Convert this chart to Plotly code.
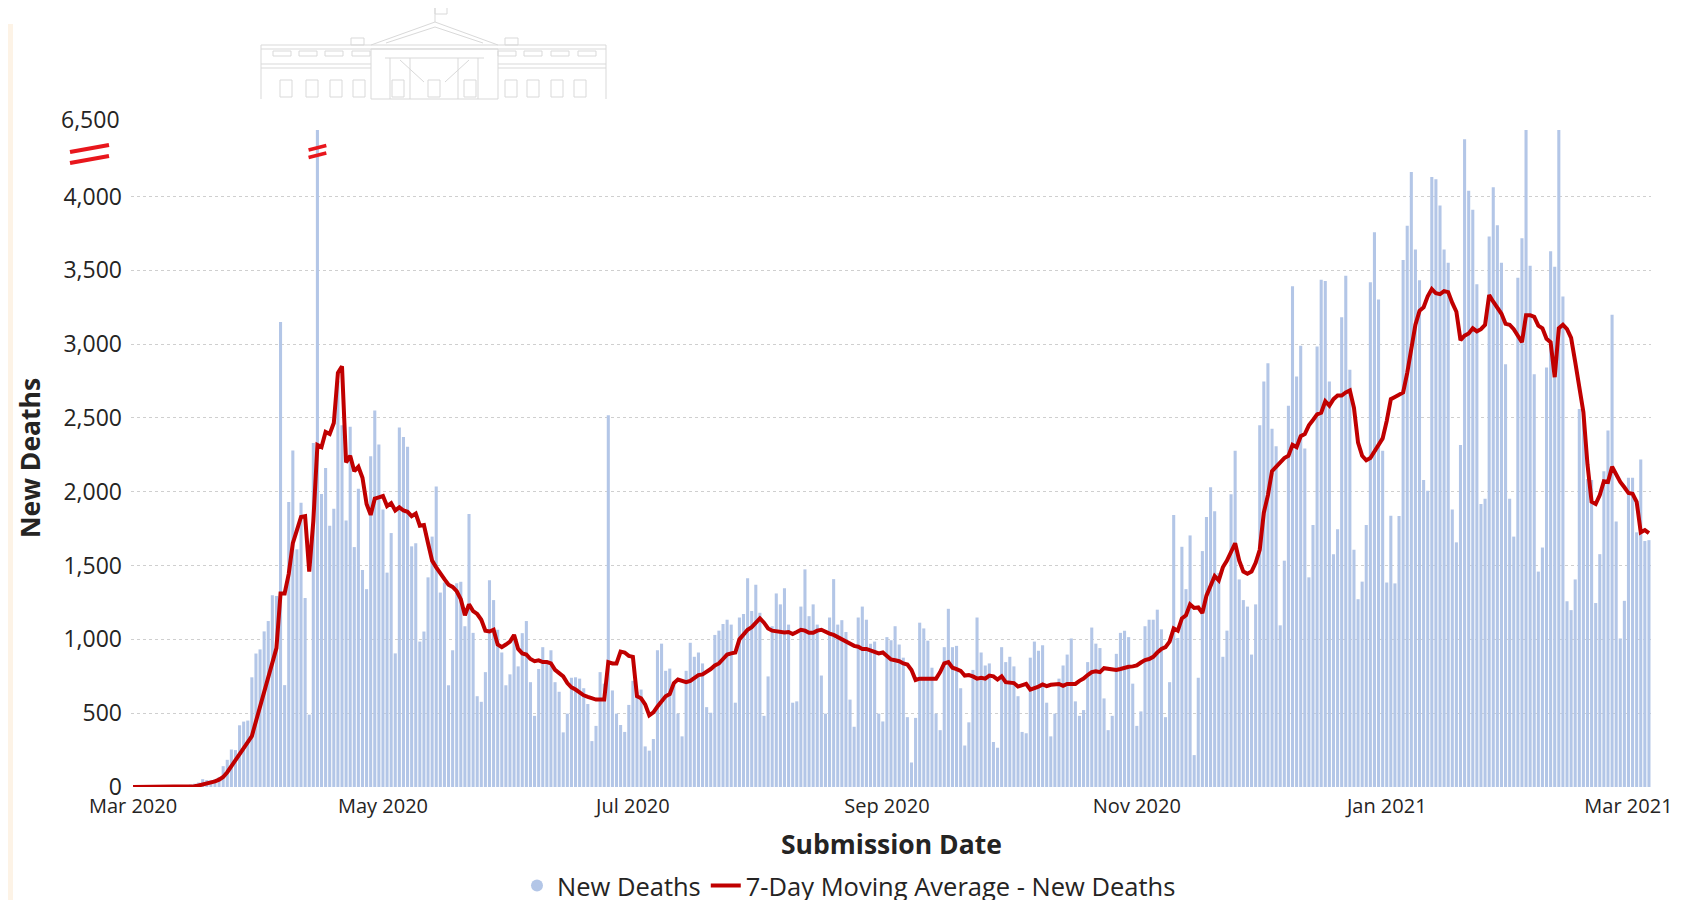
import plotly.graph_objects as go
import pandas as pd

START = "2020-03-01"

# ---- New deaths per day, one list per month ----
deaths_2020_03 = [0, 0, 1, 1, 1, 2, 3, 4, 4, 5, 7, 6, 10, 12, 16, 22, 30, 53, 47, 44, 53, 68,
                  141, 184, 254, 250, 418, 443, 450, 743, 904]
deaths_2020_04 = [932, 1054, 1124, 1299, 1294, 3150, 690, 1930, 2280, 1610, 1925, 1280, 490, 2330,
                  6420, 1985, 2160, 1770, 1885, 2750, 2450, 1805, 2440, 1625, 2020, 1470, 1340, 2240,
                  2550, 2320]
deaths_2020_05 = [1880, 1452, 1720, 905, 2435, 2370, 2305, 1630, 1651, 985, 1053, 1420, 1696, 2036,
                  1317, 1385, 689, 926, 1380, 1390, 1089, 1849, 1044, 615, 577, 778, 1400, 1266, 1065,
                  911, 689]
deaths_2020_06 = [763, 1030, 817, 1042, 1124, 710, 482, 799, 947, 858, 926, 710, 645, 370, 497, 740,
                  743, 734, 669, 562, 311, 414, 778, 700, 2518, 654, 497, 420, 373, 556]
deaths_2020_07 = [719, 645, 660, 275, 246, 325, 926, 971, 787, 802, 700, 497, 343, 787, 977, 882, 911,
                  837, 541, 503, 1030, 1059, 1104, 1133, 1100, 571, 1148, 1172, 1414, 1192, 1370]
deaths_2020_08 = [1180, 482, 749, 1089, 1311, 1237, 1346, 1100, 571, 580, 1222, 1474, 1157, 1237, 1100,
                  755, 497, 1148, 1408, 1100, 1130, 1050, 592, 408, 1148, 1222, 1133, 971, 985, 497, 444]
deaths_2020_09 = [1015, 994, 1089, 965, 876, 473, 166, 468, 1113, 1074, 991, 808, 497, 385, 947, 1207,
                  947, 956, 669, 281, 438, 793, 1148, 911, 823, 837, 305, 266, 947, 846]
deaths_2020_10 = [882, 817, 615, 373, 364, 876, 985, 923, 960, 571, 343, 497, 734, 823, 897, 1006, 580,
                  482, 521, 846, 1080, 971, 941, 600, 385, 482, 902, 1044, 1059, 1015, 700]
deaths_2020_11 = [414, 512, 1089, 1133, 1133, 1201, 1068, 473, 710, 1843, 1009, 1627, 1340, 1704, 216,
                  740, 1598, 1829, 2030, 1867, 1450, 882, 1059, 1983, 2278, 1406, 1266, 1222, 897, 1237]
deaths_2020_12 = [2450, 2746, 2870, 2426, 2308, 1095, 1533, 2583, 3391, 2781, 2989, 2293, 1420, 1775,
                  2983, 3435, 3427, 2746, 1577, 1746, 3181, 3462, 2826, 1607, 1272, 1391, 1775, 3418,
                  3758, 3302, 2278]
deaths_2021_01 = [1385, 1837, 1379, 1835, 3569, 3802, 4166, 3640, 3432, 2080, 2006, 4131, 4116, 3938,
                  3640, 3551, 1879, 1657, 2317, 4388, 4039, 3909, 3406, 1917, 1953, 3728, 4063, 3805,
                  3551, 2864, 1953]
deaths_2021_02 = [1696, 3450, 3717, 5000, 3530, 2796, 1459, 1622, 2841, 3628, 3524, 5400, 3323, 1258,
                  1198, 1406, 2560, 2509, 2086, 2080, 1246, 1577, 2139, 2414, 3199, 1799, 1006, 1261]
deaths_2021_03 = [2095, 2095, 1725, 2219, 1666, 1672]

# ---- 7-day moving average ----
ma_2020_03 = [0] * 14 + [2, 5, 10, 16, 24, 30, 38, 50, 68, 100, 142, 172, 216, 260, 300, 345, 445]
ma_2020_04 = [541, 645, 749, 837, 941, 1311, 1311, 1444, 1651, 1740, 1829, 1835, 1459, 1800, 2317,
              2302, 2405, 2391, 2465, 2805, 2850, 2199, 2243, 2139, 2169, 2095, 1917, 1843, 1953, 1962]
ma_2020_05 = [1971, 1903, 1923, 1873, 1894, 1873, 1864, 1835, 1852, 1770, 1775, 1651, 1533, 1488, 1444,
              1408, 1370, 1355, 1326, 1272, 1163, 1237, 1192, 1172, 1133, 1059, 1053, 1065, 965, 947, 965]
ma_2020_06 = [985, 1030, 935, 905, 897, 867, 852, 858, 846, 846, 837, 793, 769, 749, 704, 675, 660, 639,
              621, 610, 601, 592, 592, 592, 846, 837, 837, 917, 911, 888]
ma_2020_07 = [882, 615, 601, 560, 485, 505, 545, 586, 615, 630, 704, 728, 719, 710, 719, 740, 758, 763,
              778, 799, 823, 837, 867, 897, 905, 911, 1000, 1030, 1065, 1083, 1113]
ma_2020_08 = [1142, 1113, 1074, 1059, 1053, 1053, 1047, 1050, 1036, 1050, 1065, 1059, 1044, 1044, 1059,
              1065, 1050, 1039, 1030, 1015, 1000, 985, 971, 956, 950, 935, 935, 926, 911, 905, 911]
ma_2020_09 = [888, 864, 858, 852, 837, 829, 793, 725, 734, 734, 734, 728, 734, 778, 837, 846, 808, 799,
              787, 755, 758, 749, 734, 740, 734, 755, 749, 728, 749, 710]
ma_2020_10 = [704, 704, 680, 689, 698, 660, 669, 680, 695, 683, 692, 692, 698, 686, 698, 698, 698, 719,
              734, 758, 778, 784, 778, 805, 799, 793, 793, 799, 808, 814, 817]
ma_2020_11 = [823, 843, 860, 867, 882, 911, 935, 947, 985, 1074, 1059, 1142, 1163, 1237, 1213, 1216,
              1178, 1296, 1370, 1429, 1400, 1488, 1533, 1592, 1651, 1533, 1459, 1444, 1459, 1518]
ma_2020_12 = [1607, 1858, 1977, 2139, 2169, 2199, 2228, 2243, 2317, 2302, 2376, 2391, 2450, 2486, 2524,
              2535, 2613, 2583, 2627, 2651, 2651, 2672, 2686, 2568, 2332, 2243, 2213, 2228, 2272, 2317,
              2361]
ma_2021_01 = [2480, 2627, 2642, 2657, 2672, 2805, 2983, 3131, 3225, 3249, 3323, 3373, 3344, 3338, 3358,
              3352, 3279, 3219, 3027, 3057, 3072, 3107, 3086, 3101, 3131, 3332, 3287, 3249, 3205, 3137,
              3131]
ma_2021_02 = [3101, 3057, 3012, 3196, 3196, 3184, 3125, 3107, 3036, 3012, 2776, 3107, 3131, 3101, 3042,
              2879, 2716, 2539, 2184, 1932, 1917, 1977, 2071, 2066, 2169, 2110, 2066, 2030]
ma_2021_03 = [1991, 1986, 1932, 1725, 1740, 1719]

y_ticks = [0, 500, 1000, 1500, 2000, 2500, 3000, 3500, 4000]
break_label = "6,500"
spike_date = "2020-04-15"

deaths = (deaths_2020_03 + deaths_2020_04 + deaths_2020_05 + deaths_2020_06 + deaths_2020_07 +
          deaths_2020_08 + deaths_2020_09 + deaths_2020_10 + deaths_2020_11 + deaths_2020_12 +
          deaths_2021_01 + deaths_2021_02 + deaths_2021_03)
ma = (ma_2020_03 + ma_2020_04 + ma_2020_05 + ma_2020_06 + ma_2020_07 + ma_2020_08 + ma_2020_09 +
      ma_2020_10 + ma_2020_11 + ma_2020_12 + ma_2021_01 + ma_2021_02 + ma_2021_03)
dates = pd.date_range(START, periods=len(deaths), freq="D")

# ---- layout geometry (target page pixels; the page body has an 8px margin) ----
W, H = 1683, 900
OFF = 8
PL, PR, PT, PB = 131, 1651, 130, 787          # plot-area edges on the page
ML, MT = PL - OFF, PT - OFF
MR, MB = W - (PR - OFF), H - (PB - OFF)
PW, PH = W - ML - MR, H - MT - MB
YMAX = 4450


def px(x):
    return (x - OFF - ML) / PW


def py(y):
    return (H - MB - (y - OFF)) / PH


FONT = "Segoe UI, Open Sans, sans-serif"
TXT = "#252423"
BAR = "#b3c6e7"
LINE = "#c00000"
BRK = "#e8161c"

fig = go.Figure()
fig.add_trace(go.Bar(x=dates, y=deaths, marker=dict(color=BAR, line=dict(width=0)),
                     name="New Deaths", showlegend=False))
fig.add_trace(go.Scatter(x=[None], y=[None], mode="markers", name="New Deaths",
                         marker=dict(symbol="circle", size=12, color=BAR)))
fig.add_trace(go.Scatter(x=dates, y=ma, mode="lines", name="7-Day Moving Average - New Deaths",
                         line=dict(color=LINE, width=4)))

shapes = []
# cream strip on the left edge
shapes.append(dict(type="rect", xref="paper", yref="paper", x0=px(OFF), x1=px(OFF + 5), y0=py(H + OFF),
                   y1=py(24), fillcolor="#fdf3e6", line=dict(width=0), layer="below"))

# --- faint building logo ---
LC = "#d9d9d9"


def Lp(x0, y0, x1, y1):
    shapes.append(dict(type="line", xref="paper", yref="paper", x0=px(x0), y0=py(y0), x1=px(x1), y1=py(y1),
                       line=dict(color=LC, width=1)))


def Rp(x0, y0, x1, y1):
    shapes.append(dict(type="rect", xref="paper", yref="paper", x0=px(x0), y0=py(y0), x1=px(x1), y1=py(y1),
                       line=dict(color=LC, width=1)))


Lp(435, 6, 435, 22)
Rp(435, 6, 447, 14)
Lp(371, 45, 435, 22); Lp(435, 22, 498, 45)
Lp(386, 43, 435, 27); Lp(435, 27, 483, 43)
Rp(351, 38, 364, 45); Rp(505, 38, 518, 45)
Lp(261, 45, 606, 45); Lp(261, 49, 606, 49)
for a, b in [(273, 291), (299, 317), (325, 343), (352, 370), (498, 516), (524, 542), (551, 569), (578, 596)]:
    Rp(a, 51, b, 56)
Rp(371, 49, 498, 99)
Lp(261, 64, 371, 64); Lp(261, 68, 371, 68); Lp(498, 64, 606, 64); Lp(498, 68, 606, 68)
Lp(385, 58, 484, 58)
for c in [390, 410, 458, 478]:
    Lp(c, 58, c, 99)
Lp(400, 60, 424, 82); Lp(469, 60, 445, 82)
for a, b in [(280, 292), (306, 318), (330, 342), (353, 365), (392, 404), (428, 440), (464, 476),
             (505, 517), (527, 539), (551, 563), (574, 586)]:
    Rp(a, 80, b, 97)
Lp(261, 45, 261, 99); Lp(606, 45, 606, 99)

# --- axis break marks ---
for (ya0, ya1) in [(152, 145), (163, 156)]:
    shapes.append(dict(type="line", xref="paper", yref="paper", x0=px(70), y0=py(ya0), x1=px(109),
                       y1=py(ya1), line=dict(color=BRK, width=4)))
sd = pd.Timestamp(spike_date)
dd = pd.Timedelta(hours=52)
shapes.append(dict(type="path", xref="x", yref="paper", layer="above",
                   path=(f"M {sd - dd},{py(150)} L {sd + dd},{py(145.5)} "
                         f"L {sd + dd},{py(153)} L {sd - dd},{py(157.5)} Z"),
                   fillcolor="white", line=dict(width=0)))
for (ya0, ya1) in [(150, 145.5), (157.5, 153)]:
    shapes.append(dict(type="line", xref="x", yref="paper", x0=sd - dd, x1=sd + dd, y0=py(ya0), y1=py(ya1),
                       line=dict(color=BRK, width=3.5), layer="above"))

annotations = [
    dict(text=break_label, xref="paper", yref="paper", x=px(122), y=py(119), xanchor="right",
         yanchor="middle", showarrow=False, font=dict(family=FONT, size=23, color=TXT)),
    dict(text="Submission Date", xref="paper", yref="paper", x=px(891), y=py(844), xanchor="center",
         yanchor="middle", showarrow=False, font=dict(family=FONT, size=26.5, color=TXT, weight=700)),
    dict(text="New Deaths", xref="paper", yref="paper", x=px(30), y=py(458), xanchor="center",
         yanchor="middle", textangle=-90, showarrow=False,
         font=dict(family=FONT, size=26.5, color=TXT, weight=700)),
]

fig.update_layout(
    width=W, height=H,
    margin=dict(l=ML, r=MR, t=MT, b=MB, autoexpand=False),
    paper_bgcolor="white", plot_bgcolor="white",
    bargap=0.25,
    showlegend=True,
    legend=dict(orientation="h", x=px(849), xanchor="center", y=py(886), yanchor="middle",
                font=dict(family=FONT, size=25.5, color=TXT), itemwidth=30, bgcolor="rgba(0,0,0,0)"),
    font=dict(family=FONT, color=TXT),
    shapes=shapes,
    annotations=annotations,
)
fig.update_xaxes(
    type="date",
    range=[dates[0] - pd.Timedelta(hours=12), dates[-1] + pd.Timedelta(hours=12)],
    tick0=START, dtick="M2", tickformat="%b %Y", ticks="", showgrid=False, zeroline=False,
    showline=False, tickfont=dict(family=FONT, size=20, color=TXT), ticklabelstandoff=5,
)
fig.update_yaxes(
    range=[0, YMAX], tickvals=y_ticks, tickformat=",", ticks="", showgrid=True,
    gridcolor="#cfcfcf", griddash="dot", gridwidth=1, zeroline=False, showline=False,
    tickfont=dict(family=FONT, size=23, color=TXT), ticklabelstandoff=8,
)

fig.write_html("out.html")
